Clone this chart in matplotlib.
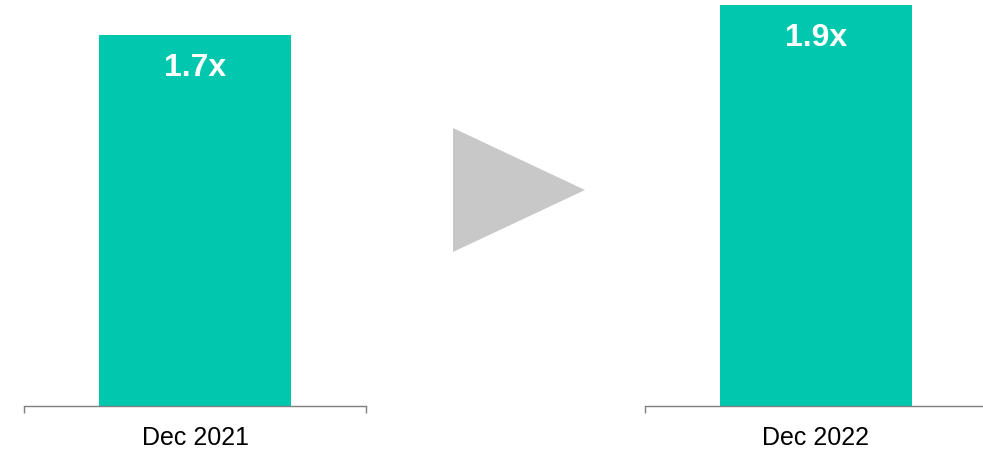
import matplotlib.pyplot as plt
from matplotlib.patches import Polygon

# DATA

periods = ['Dec 2021', 'Dec 2022']
ratios = [1.7, 1.9]
ratio_labels = ['1.7x', '1.9x']

bar_color = '#00C7AE'
axis_color = '#7F7F7F'

plt.rcParams['font.family'] = ['Liberation Sans', 'DejaVu Sans']

fig = plt.figure(figsize=(9.83, 4.5), dpi=100)

W, H = 983, 450

# each period is its own little chart, like the slide
panel_left = [24, 645]
panel_width = 342
axis_y = 406
top_pad = [35, 5]

for i in range(len(periods)):
    ax = fig.add_axes([panel_left[i] / W, (H - axis_y) / H,
                       panel_width / W, axis_y / H])
    ax.bar(0, ratios[i], width=0.56, color=bar_color)
    ax.set_xlim(-0.5, 0.5)
    # top of the bar sits a little below the panel top
    ax.set_ylim(0, ratios[i] * axis_y / (axis_y - top_pad[i]))

    for s in ['left', 'right', 'top']:
        ax.spines[s].set_visible(False)
    ax.spines['bottom'].set_color(axis_color)
    ax.spines['bottom'].set_linewidth(1)
    ax.set_yticks([])
    ax.set_xticks([-0.5, 0.5])
    ax.set_xticklabels([])
    ax.tick_params(axis='x', direction='out', length=5, width=1,
                   color=axis_color)

    ax.annotate(periods[i], xy=(0, 0), xycoords=('data', 'axes fraction'),
                xytext=(0, -14.5), textcoords='offset points',
                ha='center', va='top', fontsize=18, color='black')

    ax.annotate(ratio_labels[i], xy=(0, ratios[i]), xycoords='data',
                xytext=(0, -13), textcoords='offset points',
                ha='center', va='top', fontsize=23, fontweight='bold',
                color='white')

# ARROW BETWEEN THE TWO CHARTS

tri = Polygon([(453 / W, 1 - 128 / H), (585 / W, 1 - 190 / H), (453 / W, 1 - 252 / H)],
              closed=True, transform=fig.transFigure, color='#C8C8C8', lw=0)
fig.patches.append(tri)

plt.savefig('out.png', dpi=100)
plt.close()
